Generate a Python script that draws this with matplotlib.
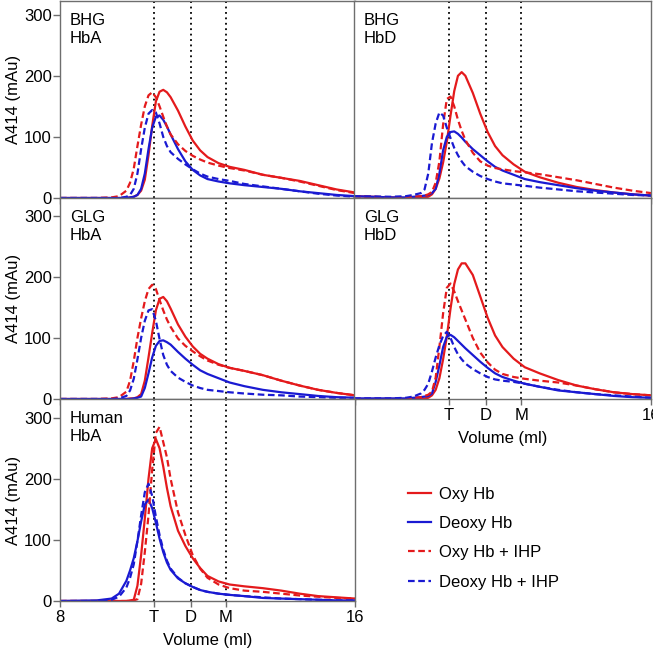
import numpy as np
import matplotlib.pyplot as plt
from matplotlib.lines import Line2D

plt.rcParams['font.family'] = ['Liberation Sans', 'DejaVu Sans']
plt.rcParams['font.size'] = 12

# elution volume (ml) at which the traces were read
volume = [8.0, 9.0, 9.4, 9.6, 9.8, 9.9, 10.0, 10.1, 10.2, 10.3, 10.4, 10.5, 10.6, 10.7,
          10.8, 10.9, 11.0, 11.2, 11.4, 11.6, 11.8, 12.0, 12.3, 12.6, 13.0, 13.5, 14.0,
          14.5, 15.0, 15.5, 16.0]

# BHG HbA
bhg_hba_oxy = [0, 0, 0, 0, 0, 1, 2, 5, 12, 30, 70, 118, 158, 174, 177, 173, 165, 143, 117,
               94, 78, 67, 57, 51, 46, 38, 33, 28, 21, 14, 9]
bhg_hba_deoxy = [0, 0, 0, 0, 0, 1, 2, 5, 15, 40, 80, 115, 133, 135, 128, 117, 104, 80, 60,
                 46, 37, 31, 27, 24, 21, 18, 15, 11, 8, 5, 3]
bhg_hba_oxy_ihp = [0, 0, 1, 3, 12, 25, 48, 85, 120, 150, 168, 173, 165, 150, 133, 117, 104,
                   88, 77, 69, 63, 58, 53, 49, 45, 38, 33, 27, 20, 13, 8]
bhg_hba_deoxy_ihp = [0, 0, 0, 0, 2, 5, 15, 40, 80, 115, 138, 144, 140, 122, 100, 85, 75, 64,
                     55, 47, 40, 35, 31, 28, 23, 19, 15, 11, 7, 4, 2]

# BHG HbD
bhg_hbd_oxy = [3, 1, 0, 0, 0, 1, 2, 6, 15, 32, 58, 92, 135, 175, 200, 206, 200, 172, 138,
               108, 85, 70, 55, 43, 34, 25, 18, 13, 9, 6, 4]
bhg_hbd_deoxy = [3, 1, 1, 2, 3, 4, 5, 8, 15, 40, 78, 100, 108, 109, 105, 99, 92, 80, 70, 60,
                 51, 45, 38, 31, 26, 21, 16, 12, 9, 6, 4]
bhg_hbd_oxy_ihp = [3, 1, 1, 2, 3, 4, 6, 10, 25, 60, 120, 162, 166, 150, 128, 110, 95, 74, 60,
                   53, 49, 47, 44, 42, 39, 34, 29, 23, 17, 12, 8]
bhg_hbd_deoxy_ihp = [3, 2, 3, 5, 8, 14, 40, 90, 122, 140, 135, 115, 98, 82, 70, 60, 52, 43,
                     36, 31, 27, 24, 22, 20, 17, 14, 11, 9, 7, 5, 4]

# GLG HbA
glg_hba_oxy = [0, 0, 0, 0, 0, 1, 1, 3, 8, 30, 68, 108, 145, 164, 167, 160, 148, 122, 102, 86,
               74, 66, 57, 51, 46, 39, 30, 22, 15, 10, 6]
glg_hba_deoxy = [0, 0, 0, 0, 0, 0, 1, 2, 4, 18, 42, 68, 87, 95, 96, 93, 89, 77, 66, 56, 47,
                 41, 34, 27, 21, 15, 11, 8, 5, 3, 2]
glg_hba_oxy_ihp = [0, 0, 1, 3, 12, 30, 62, 100, 132, 160, 180, 187, 180, 162, 145, 130, 118,
                   99, 87, 78, 70, 63, 56, 51, 46, 39, 30, 22, 15, 10, 6]
glg_hba_deoxy_ihp = [0, 0, 0, 1, 5, 14, 33, 65, 100, 128, 145, 147, 128, 98, 72, 56, 46, 35,
                     28, 22, 18, 15, 13, 11, 9, 7, 6, 4, 3, 2, 2]

# GLG HbD
glg_hbd_oxy = [0, 0, 0, 0, 0, 1, 2, 6, 15, 34, 65, 102, 148, 188, 212, 222, 222, 203, 168,
               133, 104, 85, 66, 52, 42, 31, 22, 16, 11, 8, 6]
glg_hbd_deoxy = [1, 1, 1, 2, 3, 4, 5, 9, 28, 55, 85, 102, 105, 101, 95, 89, 83, 72, 61, 51,
                 42, 36, 30, 25, 20, 14, 11, 8, 5, 3, 2]
glg_hbd_oxy_ihp = [0, 0, 1, 2, 3, 5, 7, 12, 35, 85, 140, 182, 189, 176, 160, 145, 130, 100,
                   76, 60, 48, 41, 36, 33, 30, 27, 22, 16, 11, 8, 6]
glg_hbd_deoxy_ihp = [1, 1, 2, 4, 9, 15, 25, 45, 68, 88, 103, 110, 100, 85, 73, 65, 58, 49,
                     42, 36, 32, 30, 28, 25, 20, 15, 11, 8, 6, 4, 2]

# Human HbA
human_hba_oxy = [0, 0, 0, 0, 0, 1, 2, 25, 75, 135, 200, 250, 265, 250, 220, 185, 155, 115,
                 90, 70, 54, 41, 32, 27, 24, 21, 17, 12, 8, 6, 4]
human_hba_deoxy = [0, 1, 4, 12, 33, 50, 70, 98, 130, 158, 166, 152, 128, 102, 80, 63, 51, 37,
                   29, 23, 18, 15, 12, 10, 8, 5, 4, 3, 2, 1, 1]
human_hba_oxy_ihp = [0, 0, 0, 0, 0, 0, 1, 3, 28, 80, 140, 215, 275, 285, 260, 235, 200, 145,
                     108, 75, 53, 38, 27, 21, 17, 15, 12, 9, 7, 5, 4]
human_hba_deoxy_ihp = [0, 0, 2, 7, 22, 38, 60, 98, 140, 178, 192, 172, 138, 108, 84, 66, 53,
                       38, 29, 23, 18, 15, 12, 10, 8, 6, 4, 3, 2, 1, 1]

peak_pos = [10.55, 11.55, 12.5]
peak_names = ['T', 'D', 'M']
series_names = ['Oxy Hb', 'Deoxy Hb', 'Oxy Hb + IHP', 'Deoxy Hb + IHP']

red = '#e41a1c'
blue = '#1a1ad2'
styles = [(red, '-'), (blue, '-'), (red, (0, (3, 1.6))), (blue, (0, (3, 1.6)))]

W = 653
fig = plt.figure(figsize=(6.53, 6.53), dpi=100)

# name, left px, right px, top px, bottom px, traces, bottom labels
panels = [
    ('BHG\nHbA', 60, 355, 1, 198,
     [bhg_hba_oxy, bhg_hba_deoxy, bhg_hba_oxy_ihp, bhg_hba_deoxy_ihp], False, True),
    ('BHG\nHbD', 354, 651, 1, 198,
     [bhg_hbd_oxy, bhg_hbd_deoxy, bhg_hbd_oxy_ihp, bhg_hbd_deoxy_ihp], False, False),
    ('GLG\nHbA', 60, 355, 198, 399,
     [glg_hba_oxy, glg_hba_deoxy, glg_hba_oxy_ihp, glg_hba_deoxy_ihp], False, True),
    ('GLG\nHbD', 354, 651, 198, 399,
     [glg_hbd_oxy, glg_hbd_deoxy, glg_hbd_oxy_ihp, glg_hbd_deoxy_ihp], True, False),
    ('Human\nHbA', 60, 355, 399, 601,
     [human_hba_oxy, human_hba_deoxy, human_hba_oxy_ihp, human_hba_deoxy_ihp], True, True),
]

for name, x0, x1, y0, y1, traces, xlab, ylab in panels:
    ax = fig.add_axes([x0 / W, 1 - y1 / W, (x1 - x0) / W, (y1 - y0) / W])
    ax.set_xlim(8, 16)
    ax.set_ylim(0, (y1 - y0) / 0.611)
    for xv in peak_pos:
        ax.axvline(xv, color='black', lw=1.3, ls=(0, (1, 2)), zorder=1)
    for tr, (c, ls) in zip(traces, styles):
        ax.plot(volume, tr, color=c, ls=ls, lw=1.6, zorder=2)
    for s in ax.spines.values():
        s.set_color('#6e6e6e')
        s.set_linewidth(1.0)
    ax.set_xticks([8] + peak_pos + [16])
    ax.tick_params(axis='x', direction='out', length=4.5, color='#6e6e6e', width=1.0,
                   labelsize=12, pad=2)
    if xlab:
        if x0 < 100:
            ax.set_xticklabels(['8'] + peak_names + ['16'])
        else:
            ax.set_xticklabels([''] + peak_names + ['16'])
        ax.set_xlabel('Volume (ml)', fontsize=12, labelpad=6)
    else:
        ax.set_xticklabels([])
    if ylab:
        ax.set_yticks([0, 100, 200, 300])
        ax.tick_params(axis='y', direction='out', length=5, color='#6e6e6e', width=1.0,
                       labelsize=12, pad=1)
        ax.set_ylabel('A414 (mAu)', fontsize=12, labelpad=2)
    else:
        ax.set_yticks([])
    ax.text(0.034, 0.94, name, transform=ax.transAxes, va='top', ha='left',
            fontsize=12, linespacing=1.25)

handles = [Line2D([], [], color=c, ls=ls, lw=1.6) for c, ls in styles]
fig.legend(handles, series_names, loc='center left', bbox_to_anchor=(408 / W, 1 - 538 / W),
           frameon=False, fontsize=12, handlelength=1.4, handletextpad=0.45,
           labelspacing=0.86, borderpad=0, borderaxespad=0)

fig.savefig('out.png', dpi=100, facecolor='white')
